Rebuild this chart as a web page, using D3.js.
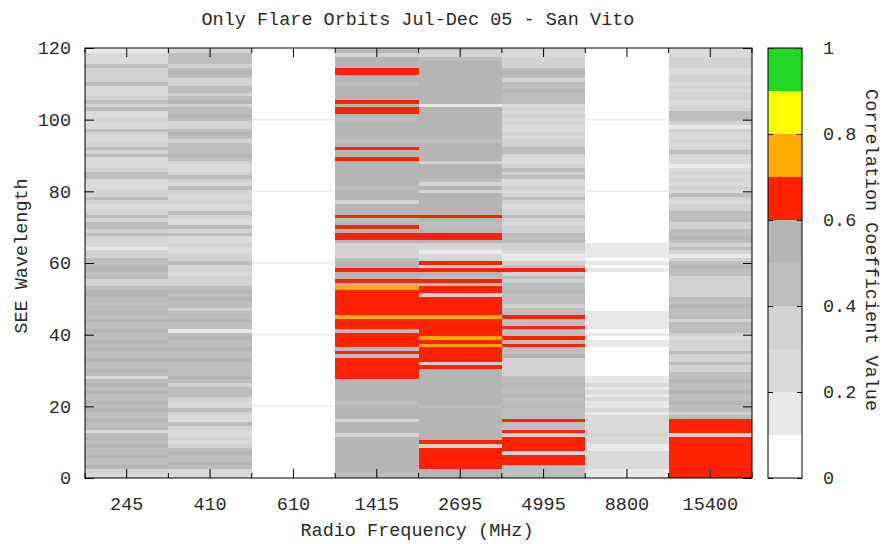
<!DOCTYPE html>
<html><head><meta charset="utf-8">
<script src="https://cdn.jsdelivr.net/npm/d3@7/dist/d3.min.js"></script>
<style>
body{margin:0;background:#fff;}
text{font-family:"Liberation Mono","DejaVu Sans Mono",monospace;fill:#2a2a2a;}
</style></head>
<body><svg id="c" width="887" height="544"></svg>
<script>
// ---- DATA ----
const title = "Only Flare Orbits Jul-Dec 05 - San Vito";
const xLabel = "Radio Frequency (MHz)";
const yLabel = "SEE Wavelength";
const cbLabel = "Correlation Coefficient Value";
const frequencies = ["245","410","610","1415","2695","4995","8800","15400"];
const yTicks = [0,20,40,60,80,100,120];
const cbTicks = [0,0.2,0.4,0.6,0.8,1];
const cbTickLabels = ["0","0.2","0.4","0.6","0.8","1"];
const classBreaks = [0.1,0.2,0.3,0.4,0.5,0.6,0.7,0.8,0.9];
const classColors = ["#ffffff","#e8e8e8","#d9d9d9","#d2d2d2","#bdbdbd","#b5b5b5","#ff2200","#ffaa00","#ffff00","#22d822"];
// wavelength rows, listed top (120) to bottom (1)
const wavelengths = d3.range(120, 0, -1);
// correlation values per frequency, same order as wavelengths (120 -> 1)
const col245 = [
 0.18,0.18,0.2,0.25,0.25,0.45,0.35,0.32,0.35,0.38,
 0.45,0.25,0.28,0.25,0.3,0.45,0.35,0.42,0.28,0.25,
 0.3,0.25,0.28,0.45,0.3,0.25,0.28,0.32,0.45,0.35,
 0.45,0.28,0.25,0.25,0.3,0.42,0.45,0.28,0.25,0.25,
 0.3,0.35,0.45,0.3,0.25,0.28,0.35,0.45,0.32,0.45,
 0.45,0.3,0.45,0.3,0.28,0.25,0.12,0.3,0.35,0.45,
 0.45,0.5,0.55,0.45,0.45,0.38,0.35,0.45,0.5,0.55,
 0.45,0.45,0.42,0.45,0.5,0.45,0.55,0.45,0.45,0.5,
 0.45,0.45,0.55,0.45,0.5,0.45,0.45,0.55,0.45,0.45,
 0.5,0.45,0.22,0.45,0.5,0.45,0.55,0.45,0.45,0.5,
 0.45,0.55,0.45,0.45,0.5,0.45,0.45,0.28,0.45,0.5,
 0.45,0.55,0.45,0.45,0.5,0.45,0.45,0.5,0.3,0.28];
const col410 = [
 0.3,0.35,0.4,0.45,0.45,0.35,0.45,0.5,0.45,0.35,
 0.3,0.45,0.45,0.3,0.45,0.5,0.32,0.45,0.45,0.5,
 0.45,0.35,0.3,0.45,0.5,0.45,0.35,0.4,0.45,0.45,
 0.5,0.45,0.3,0.28,0.25,0.3,0.42,0.3,0.28,0.42,
 0.3,0.25,0.28,0.3,0.25,0.28,0.45,0.3,0.28,0.25,
 0.45,0.3,0.45,0.28,0.25,0.3,0.25,0.28,0.32,0.35,
 0.42,0.3,0.3,0.28,0.3,0.32,0.35,0.45,0.5,0.45,
 0.5,0.45,0.45,0.3,0.45,0.45,0.5,0.45,0.45,0.15,
 0.45,0.5,0.45,0.45,0.5,0.45,0.45,0.5,0.45,0.42,
 0.45,0.45,0.5,0.45,0.3,0.45,0.45,0.45,0.3,0.28,
 0.25,0.4,0.3,0.28,0.25,0.4,0.3,0.28,0.25,0.3,
 0.28,0.3,0.45,0.5,0.45,0.45,0.5,0.45,0.28,0.25];
const col610 = [
 0.05,0.05,0.05,0.05,0.05,0.05,0.05,0.05,0.05,0.05,
 0.05,0.05,0.05,0.05,0.05,0.05,0.05,0.05,0.05,0.05,
 0.05,0.05,0.05,0.05,0.05,0.05,0.05,0.05,0.05,0.05,
 0.05,0.05,0.05,0.05,0.05,0.05,0.05,0.05,0.05,0.05,
 0.05,0.05,0.05,0.05,0.05,0.05,0.05,0.05,0.05,0.05,
 0.05,0.05,0.05,0.05,0.05,0.05,0.05,0.05,0.05,0.05,
 0.05,0.05,0.05,0.05,0.05,0.05,0.05,0.05,0.05,0.05,
 0.05,0.05,0.05,0.05,0.05,0.05,0.05,0.05,0.05,0.05,
 0.05,0.05,0.05,0.05,0.05,0.05,0.05,0.05,0.05,0.05,
 0.05,0.05,0.05,0.05,0.05,0.05,0.05,0.05,0.05,0.05,
 0.05,0.05,0.05,0.05,0.05,0.05,0.05,0.05,0.05,0.05,
 0.05,0.05,0.05,0.05,0.05,0.05,0.05,0.05,0.05,0.05];
const col1415 = [
 0.5,0.5,0.35,0.5,0.5,0.5,0.65,0.65,0.5,0.5,
 0.45,0.5,0.5,0.5,0.5,0.65,0.5,0.65,0.65,0.5,
 0.42,0.5,0.5,0.5,0.5,0.5,0.45,0.5,0.65,0.5,
 0.5,0.65,0.5,0.5,0.5,0.5,0.5,0.5,0.5,0.45,
 0.5,0.5,0.5,0.3,0.5,0.5,0.5,0.65,0.42,0.5,
 0.65,0.5,0.65,0.65,0.5,0.35,0.3,0.35,0.32,0.4,
 0.5,0.5,0.65,0.5,0.5,0.65,0.5,0.75,0.65,0.65,
 0.65,0.65,0.65,0.65,0.65,0.75,0.65,0.65,0.65,0.45,
 0.65,0.65,0.65,0.65,0.45,0.65,0.45,0.65,0.65,0.65,
 0.65,0.65,0.65,0.5,0.5,0.5,0.5,0.5,0.5,0.45,
 0.5,0.5,0.5,0.5,0.32,0.5,0.5,0.5,0.3,0.5,
 0.5,0.5,0.5,0.5,0.5,0.5,0.5,0.5,0.5,0.4];
const col2695 = [
 0.5,0.35,0.3,0.4,0.5,0.5,0.5,0.5,0.5,0.5,
 0.5,0.5,0.5,0.5,0.5,0.5,0.18,0.5,0.5,0.5,
 0.5,0.5,0.5,0.5,0.5,0.5,0.45,0.5,0.5,0.5,
 0.5,0.5,0.35,0.5,0.5,0.5,0.5,0.4,0.35,0.5,
 0.35,0.5,0.5,0.5,0.5,0.5,0.5,0.65,0.5,0.45,
 0.4,0.5,0.65,0.65,0.5,0.32,0.28,0.18,0.25,0.32,
 0.65,0.38,0.65,0.5,0.45,0.65,0.45,0.65,0.65,0.38,
 0.65,0.65,0.65,0.65,0.65,0.75,0.65,0.65,0.65,0.65,
 0.65,0.75,0.65,0.75,0.65,0.65,0.65,0.65,0.38,0.65,
 0.5,0.5,0.5,0.5,0.5,0.5,0.5,0.5,0.5,0.5,
 0.45,0.5,0.5,0.5,0.5,0.5,0.5,0.5,0.5,0.5,
 0.65,0.38,0.65,0.65,0.65,0.65,0.65,0.65,0.5,0.5];
const col4995 = [
 0.3,0.28,0.25,0.3,0.32,0.35,0.45,0.5,0.45,0.3,
 0.45,0.45,0.5,0.45,0.45,0.45,0.28,0.3,0.25,0.3,
 0.28,0.3,0.25,0.28,0.3,0.25,0.3,0.35,0.45,0.45,
 0.3,0.28,0.25,0.3,0.45,0.35,0.45,0.28,0.25,0.3,
 0.28,0.3,0.45,0.3,0.25,0.28,0.3,0.45,0.3,0.28,
 0.3,0.35,0.45,0.45,0.45,0.35,0.3,0.25,0.15,0.18,
 0.35,0.4,0.65,0.35,0.4,0.35,0.45,0.45,0.5,0.45,
 0.45,0.45,0.35,0.4,0.45,0.65,0.45,0.45,0.65,0.45,
 0.45,0.65,0.45,0.65,0.45,0.45,0.5,0.35,0.3,0.3,
 0.35,0.32,0.4,0.45,0.5,0.45,0.45,0.5,0.45,0.45,
 0.5,0.45,0.45,0.45,0.65,0.45,0.45,0.65,0.35,0.65,
 0.65,0.65,0.65,0.3,0.65,0.65,0.65,0.45,0.45,0.45];
const col8800 = [
 0.05,0.05,0.05,0.05,0.05,0.05,0.05,0.05,0.05,0.05,
 0.05,0.05,0.05,0.05,0.05,0.05,0.05,0.05,0.05,0.05,
 0.05,0.05,0.05,0.05,0.05,0.05,0.05,0.05,0.05,0.05,
 0.05,0.05,0.05,0.05,0.05,0.05,0.05,0.05,0.05,0.05,
 0.05,0.05,0.05,0.05,0.05,0.05,0.05,0.05,0.05,0.05,
 0.05,0.05,0.05,0.05,0.05,0.15,0.18,0.15,0.12,0.05,
 0.15,0.05,0.15,0.05,0.05,0.05,0.05,0.05,0.05,0.05,
 0.05,0.05,0.05,0.05,0.15,0.18,0.15,0.15,0.12,0.05,
 0.15,0.05,0.18,0.12,0.05,0.05,0.05,0.05,0.05,0.05,
 0.05,0.05,0.12,0.18,0.25,0.18,0.22,0.15,0.2,0.18,
 0.12,0.22,0.18,0.25,0.2,0.25,0.22,0.25,0.35,0.25,
 0.22,0.1,0.18,0.25,0.2,0.22,0.25,0.2,0.18,0.15];
const col15400 = [
 0.25,0.22,0.25,0.35,0.35,0.3,0.25,0.28,0.35,0.3,
 0.25,0.3,0.28,0.35,0.3,0.25,0.28,0.3,0.4,0.45,
 0.4,0.35,0.1,0.3,0.25,0.28,0.3,0.28,0.35,0.45,
 0.3,0.28,0.25,0.15,0.28,0.3,0.25,0.3,0.28,0.3,
 0.25,0.4,0.3,0.28,0.3,0.3,0.45,0.45,0.42,0.3,
 0.3,0.45,0.45,0.5,0.45,0.3,0.4,0.35,0.15,0.3,
 0.45,0.5,0.45,0.45,0.35,0.3,0.35,0.3,0.32,0.35,
 0.45,0.45,0.5,0.45,0.45,0.45,0.35,0.45,0.45,0.45,
 0.3,0.28,0.3,0.35,0.35,0.4,0.3,0.35,0.45,0.35,
 0.3,0.4,0.45,0.5,0.45,0.45,0.5,0.45,0.45,0.5,
 0.45,0.4,0.35,0.45,0.65,0.65,0.65,0.65,0.3,0.65,
 0.65,0.65,0.65,0.65,0.65,0.65,0.65,0.65,0.65,0.65];
const columns = [col245,col410,col610,col1415,col2695,col4995,col8800,col15400];

// ---- LAYOUT ----
const svg = d3.select("#c");
const L = 85, R = 752, T = 48, B = 478;
const x = d3.scaleBand().domain(frequencies).range([L, R]).padding(0);
const y = d3.scaleLinear().domain([0, 120]).range([B, T]);
const color = d3.scaleThreshold().domain(classBreaks).range(classColors);
const minW = d3.min(wavelengths);
const fs = "18.5px";
const ff = '"Liberation Mono", monospace';

// grid lines (visible only through empty cells)
svg.append("g").selectAll("line").data(yTicks.filter(v => v > 0 && v < 120)).join("line")
  .attr("x1", L).attr("x2", R).attr("y1", d => y(d)).attr("y2", d => y(d))
  .attr("stroke", "#ececec").attr("stroke-width", 1.5);

// cells
const cells = [];
columns.forEach((col, i) => col.forEach((v, j) => cells.push({f: frequencies[i], w: wavelengths[j], v})));
svg.append("g").attr("shape-rendering", "crispEdges").selectAll("rect")
  .data(cells.filter(d => d.v >= classBreaks[0])).join("rect")
  .attr("x", d => x(d.f)).attr("width", x.bandwidth())
  .attr("y", d => y(Math.min(d.w + 0.5, 120)))
  .attr("height", d => y(d.w === minW ? 0 : d.w - 0.5) - y(Math.min(d.w + 0.5, 120)))
  .attr("fill", d => color(d.v));

// axes
const gB = svg.append("g").attr("transform", `translate(0,${B})`)
  .call(d3.axisBottom(x).tickSize(-9).tickPadding(19));
const gT = svg.append("g").attr("transform", `translate(0,${T})`)
  .call(d3.axisTop(x).tickSize(-9).tickFormat(""));
const gL = svg.append("g").attr("transform", `translate(${L},0)`)
  .call(d3.axisLeft(y).tickValues(yTicks).tickSize(-9).tickPadding(14));
const gR = svg.append("g").attr("transform", `translate(${R},0)`)
  .call(d3.axisRight(y).tickValues(yTicks).tickSize(-9).tickFormat(""));
[gB, gT, gL, gR].forEach(g => {
  g.select(".domain").remove();
  g.selectAll("line").attr("stroke", "#000");
  g.selectAll("text").style("font-size", fs).attr("fill", "#2a2a2a").style("font-family", ff);
});
// minor ticks at column boundaries
const bounds = frequencies.map(f => x(f)).concat([x(frequencies[frequencies.length-1]) + x.bandwidth()]);
svg.append("g").selectAll("line").data(bounds).join("line")
  .attr("x1", d => d).attr("x2", d => d).attr("y1", B).attr("y2", B - 5).attr("stroke", "#000");
svg.append("g").selectAll("line").data(bounds).join("line")
  .attr("x1", d => d).attr("x2", d => d).attr("y1", T).attr("y2", T + 5).attr("stroke", "#000");

// border
svg.append("rect").attr("x", L).attr("y", T).attr("width", R - L).attr("height", B - T)
  .attr("fill", "none").attr("stroke", "#000").attr("stroke-width", 1);

// colorbar
const CL = 768, CR = 802;
const cy = d3.scaleLinear().domain([0, 1]).range([B, T]);
const classEdges = [0].concat(classBreaks).concat([1]);
svg.append("g").attr("shape-rendering", "crispEdges").selectAll("rect")
  .data(classColors).join("rect")
  .attr("x", CL).attr("width", CR - CL)
  .attr("y", (c, k) => cy(classEdges[k + 1]))
  .attr("height", (c, k) => cy(classEdges[k]) - cy(classEdges[k + 1]))
  .attr("fill", c => c);
const gC = svg.append("g").attr("transform", `translate(${CR},0)`)
  .call(d3.axisRight(cy).tickValues(cbTicks).tickSize(-5).tickPadding(21)
        .tickFormat((d, i) => cbTickLabels[i]));
const gC2 = svg.append("g").attr("transform", `translate(${CL},0)`)
  .call(d3.axisLeft(cy).tickValues(cbTicks).tickSize(-5).tickFormat(""));
[gC, gC2].forEach(g => {
  g.select(".domain").remove();
  g.selectAll("line").attr("stroke", "#000");
  g.selectAll("text").style("font-size", fs).attr("fill", "#2a2a2a").style("font-family", ff);
});
svg.append("rect").attr("x", CL).attr("y", T).attr("width", CR - CL).attr("height", B - T)
  .attr("fill", "none").attr("stroke", "#000");

// labels
svg.append("text").attr("x", 418).attr("y", 25).attr("text-anchor", "middle")
  .style("font-size", fs).text(title);
svg.append("text").attr("x", 417).attr("y", 536).attr("text-anchor", "middle")
  .style("font-size", fs).text(xLabel);
svg.append("text").attr("transform", `translate(27,256) rotate(-90)`).attr("text-anchor", "middle")
  .style("font-size", fs).text(yLabel);
svg.append("text").attr("transform", `translate(866,250) rotate(90)`).attr("text-anchor", "middle")
  .style("font-size", fs).text(cbLabel);
</script></body></html>
